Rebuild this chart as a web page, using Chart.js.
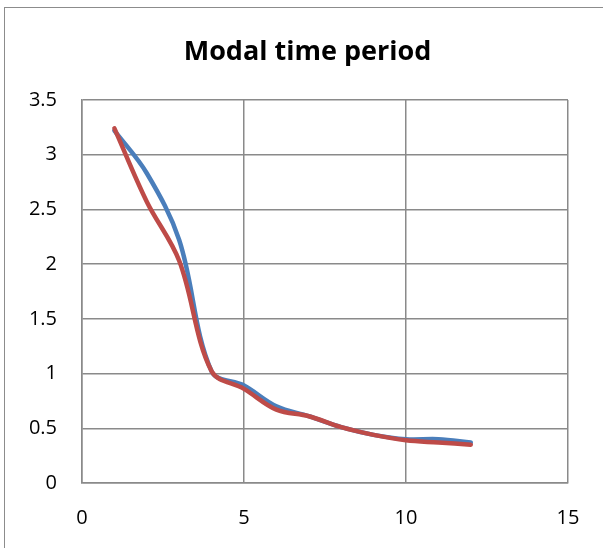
<!DOCTYPE html>
<html>
<head>
  <meta charset="UTF-8" />
  <title>Modal time period</title>
  <script src="https://cdn.jsdelivr.net/npm/chart.js"></script>
  <style>
    html, body { margin: 0; padding: 0; background: #fff; overflow: hidden; }
    .frame {
      position: absolute;
      left: 4px;
      top: 7px;
      width: 700px;
      height: 700px;
      border: 1.5px solid #8c8c8c;
    }
    .wrap {
      position: absolute;
      left: 0;
      top: 0;
      width: 603px;
      height: 548px;
    }
  </style>
</head>
<body>
  <div class="frame"></div>
  <div class="wrap"><canvas id="grafica" width="603" height="548"></canvas></div>

  <script>
  // valores
  const modos = [1, 2, 3, 4, 5, 6, 7, 8, 9, 10, 11, 12];
  const serieAzul = [3.22, 2.83, 2.22, 1.02, 0.89, 0.70, 0.61, 0.51, 0.44, 0.40, 0.40, 0.37];
  const serieRoja = [3.24, 2.57, 2.03, 1.02, 0.86, 0.67, 0.61, 0.51, 0.44, 0.39, 0.37, 0.35];
  const ticksX = [0, 5, 10, 15];
  const ticksY = [0, 0.5, 1, 1.5, 2, 2.5, 3, 3.5];

  const puntos = (ys) => modos.map((x, i) => ({ x: x, y: ys[i] }));
  const fuente = "'Open Sans', 'Liberation Sans', sans-serif";
  const gris = '#8a8a8a';

  new Chart(document.getElementById('grafica'), {
    type: 'scatter',
    data: {
      datasets: [
        {
          label: 'Serie 1',
          data: puntos(serieAzul),
          showLine: true,
          borderColor: '#4a7ebb',
          borderWidth: 4.5,
          borderCapStyle: 'round',
          pointRadius: 0,
          tension: 0.35,
          order: 1
        },
        {
          label: 'Serie 2',
          data: puntos(serieRoja),
          showLine: true,
          borderColor: '#be4b48',
          borderWidth: 4.5,
          borderCapStyle: 'round',
          pointRadius: 0,
          tension: 0.35,
          order: 0
        }
      ]
    },
    options: {
      responsive: false,
      animation: false,
      layout: { padding: { left: 12, right: 0, top: 0, bottom: 0 } },
      plugins: {
        legend: { display: false },
        tooltip: { enabled: false },
        title: {
          display: true,
          text: 'Modal time period',
          color: '#000',
          font: { family: fuente, size: 27, weight: 'bold', lineHeight: 1.2 },
          padding: { top: 36, bottom: 31.5 }
        }
      },
      scales: {
        x: {
          type: 'linear',
          min: 0,
          max: 15,
          afterBuildTicks: (ax) => { ax.ticks = ticksX.map(v => ({ value: v })); },
          afterFit: (ax) => { ax.height = 65; },
          grid: { color: gris, lineWidth: 1.5, drawTicks: false },
          border: { color: gris, width: 1.5 },
          ticks: { color: '#000', padding: 23, callback: v => String(v), font: { family: fuente, size: 20 } }
        },
        y: {
          type: 'linear',
          min: 0,
          max: 3.5,
          afterBuildTicks: (ax) => { ax.ticks = ticksY.map(v => ({ value: v })); },
          afterFit: (ax) => { ax.width = 70; },
          grid: { color: gris, lineWidth: 1.5, drawTicks: false },
          border: { color: gris, width: 1.5 },
          ticks: { color: '#000', padding: 25, callback: v => String(v), font: { family: fuente, size: 20 } }
        },
        margen: {
          type: 'linear',
          position: 'right',
          grid: { display: false },
          border: { display: false },
          ticks: { display: false },
          afterFit: (ax) => { ax.width = 35; }
        }
      }
    }
  });
  </script>
</body>
</html>
